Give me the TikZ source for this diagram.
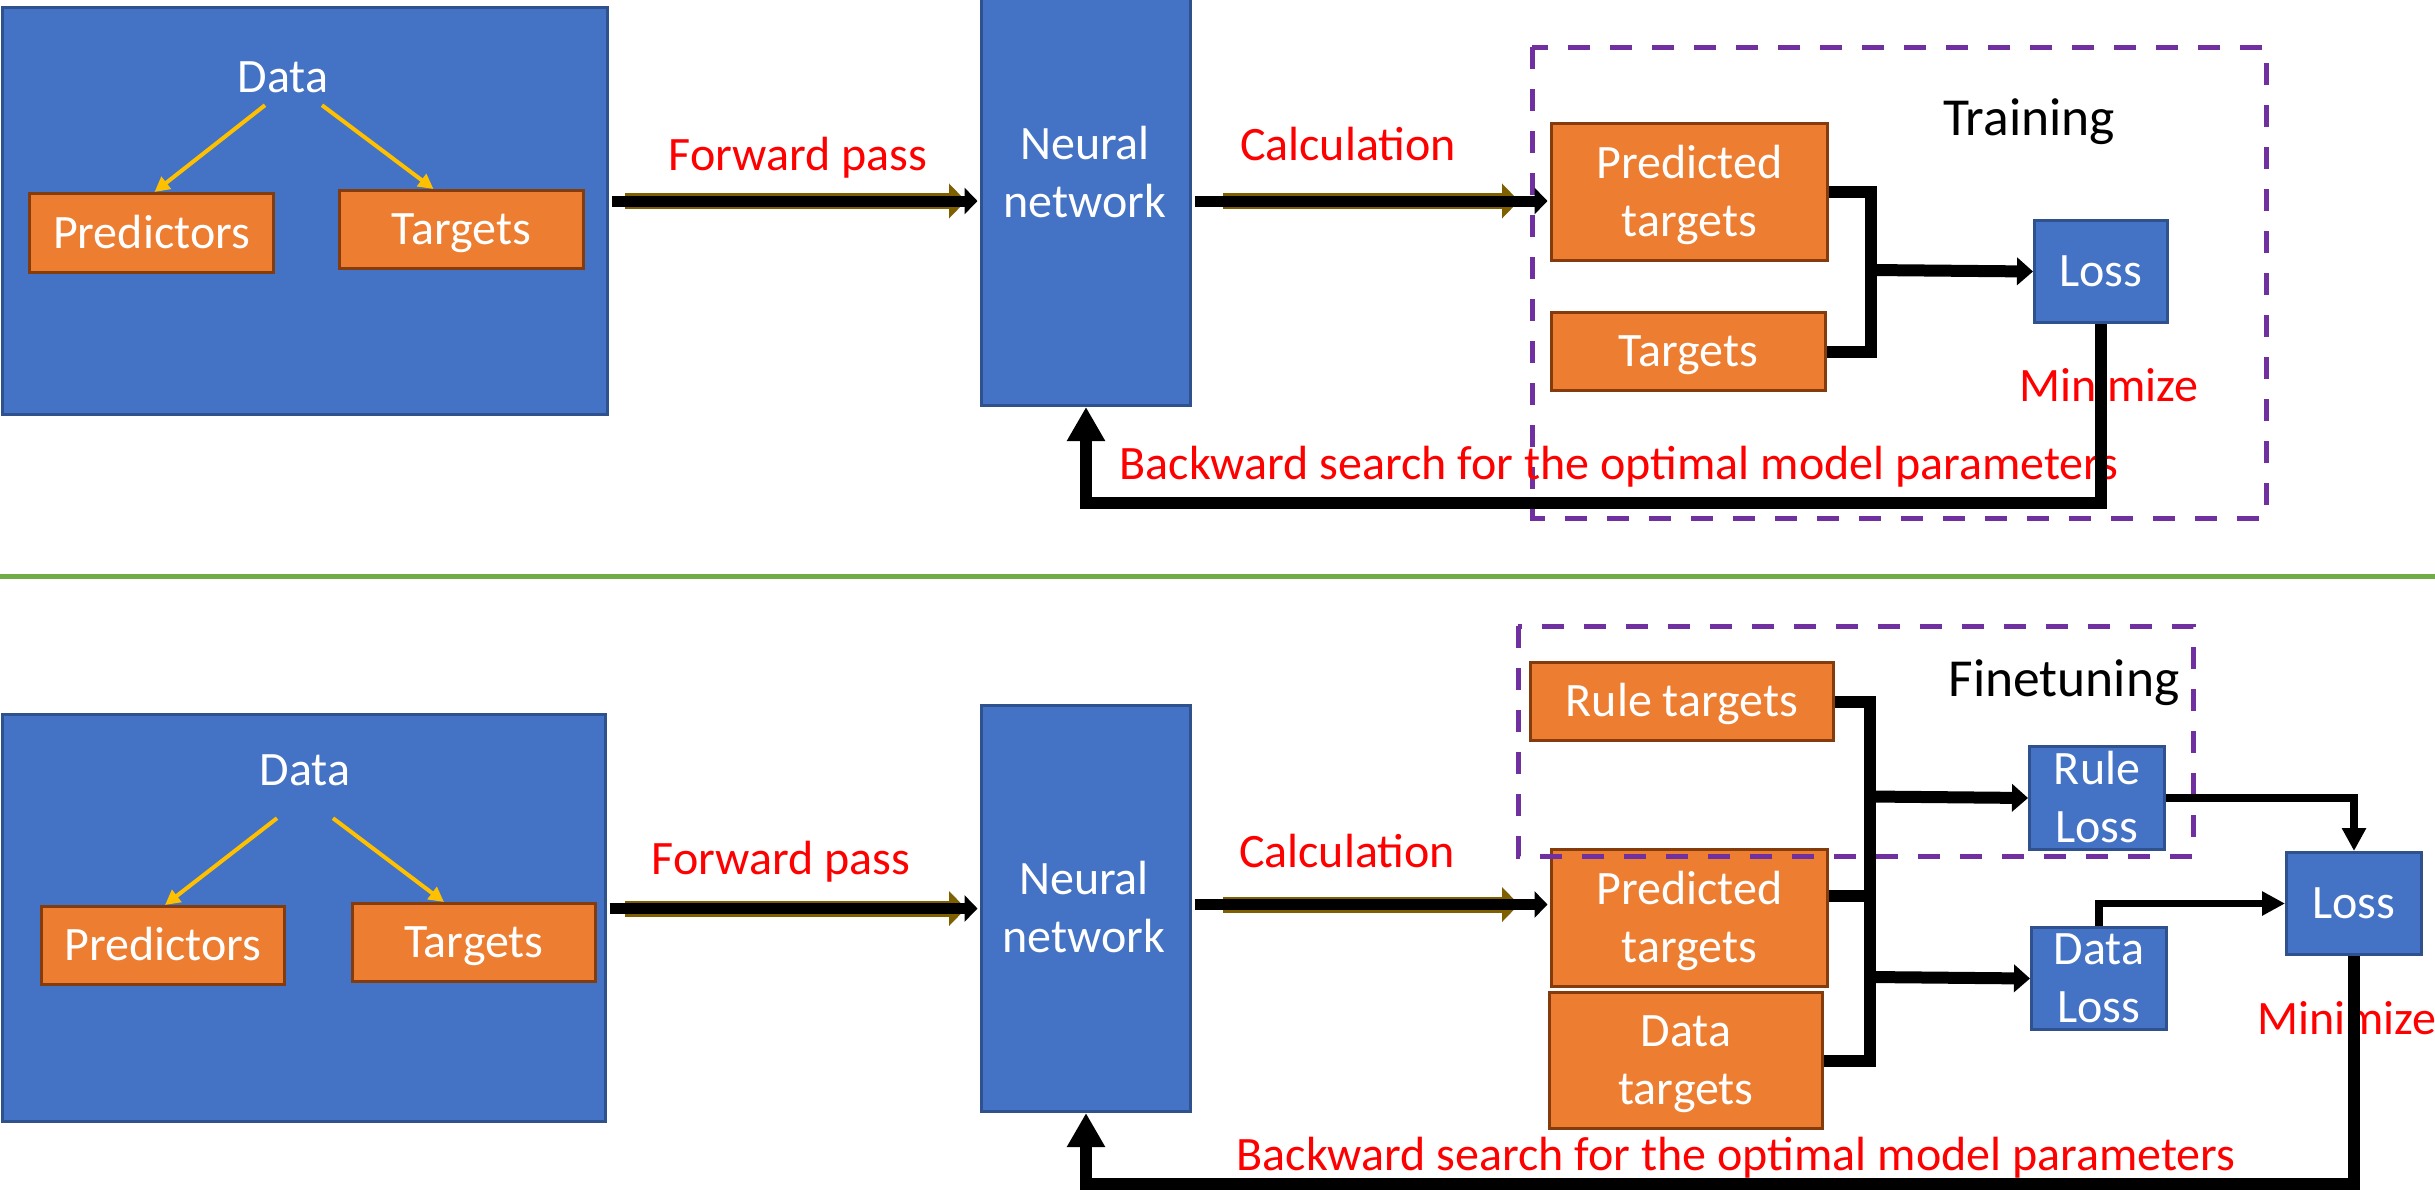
\documentclass[tikz,border=0pt]{standalone}
\usepackage{fontspec}
\setmainfont{Carlito}
\usetikzlibrary{arrows.meta}
\definecolor{boxblue}{HTML}{4472C4}
\definecolor{edgeblue}{HTML}{2F528F}
\definecolor{boxorange}{HTML}{ED7D31}
\definecolor{edgeorange}{HTML}{843C0C}
\definecolor{gold}{HTML}{FFC000}
\definecolor{plum}{HTML}{7030A0}
\definecolor{leaf}{HTML}{70AD47}
\definecolor{olivebrown}{HTML}{7F6000}
\begin{document}
\begin{tikzpicture}[x=1pt,y=-1pt,
  txt/.style={inner sep=0pt, text height=30pt, text depth=0pt, align=center,
              font=\fontsize{48}{58}\selectfont},
  twoline/.style={text height=88pt, text depth=0pt},
  bigtxt/.style={inner sep=0pt, text height=33.5pt, text depth=0pt,
              font=\fontsize{53.5}{60}\selectfont},
  redtxt/.style={txt, text=red},
  wh/.style 2 args={minimum width=#1, minimum height=#2},
  bluebox/.style={txt, rectangle, draw=edgeblue, fill=boxblue, line width=3pt,
                  anchor=north west, text=white},
  orangebox/.style={txt, rectangle, draw=edgeorange, fill=boxorange, line width=3pt,
                  anchor=north west, text=white},
  split/.style={draw=gold, line width=4pt, -{Triangle[length=15pt,width=15pt]}},
  fwd/.style={draw=olivebrown, line width=16pt, -{Triangle[length=17pt,width=34pt]},
              postaction={draw=black, line width=11pt,
                          -{Triangle[length=13pt,width=26pt]},
                          shorten >=2.5pt, shorten <=2.5pt}},
  bus/.style={draw=black, line width=12pt},
  bustip/.style={bus, -{Triangle[length=16pt,width=27pt]}},
  backtip/.style={bus, -{Triangle[length=34pt,width=36pt]}},
  link/.style={draw=black, line width=7.5pt, -{Triangle[length=23pt,width=23pt]}},
  frame/.style={draw=plum, line width=5pt, dash pattern=on 22pt off 20pt}
]
\useasboundingbox (0,0) rectangle (2435,1192);
\fill[white] (0,0) rectangle (2435,1192);

% ---------------- training stage ----------------
\node[bluebox, wh={605}{407}] (data1) at (1,6) {};
\node[txt, text=white] (dlab1) at (283,77) {Data};
\node[orangebox, wh={244}{79}] (pr1) at (28,192) {Predictors};
\node[orangebox, wh={244}{78}] (tg1) at (338,189) {Targets};
\draw[split] ([xshift=-18pt,yshift=-13pt]dlab1.south) -- ([xshift=3pt]pr1.north);
\draw[split] ([xshift=39pt,yshift=-13pt]dlab1.south) -- ([xshift=-28pt]tg1.north);

\node[bluebox, wh={209}{409}] (nn1) at (980,-5) {};
\node[txt, twoline, text=white] (nnlab1) at (1085,173.5) {Neural\\network};

\node[orangebox, twoline, wh={276}{137}] (pt1) at (1550,122) {Predicted\\targets};
\node[orangebox, wh={274}{78}] (tt1) at (1550,311) {Targets};
\node[bluebox, wh={133}{102}] (loss1) at (2033,219) {Loss};

\draw[frame] (1532,47) rectangle (2266,518);

\node[redtxt] (fwlab1) at (798,155) {Forward pass};
\draw[fwd, shorten <=16pt, shorten >=14pt] (data1.east |- nn1.west) -- (nn1.west);
\node[redtxt] (calab1) at (1348,145) {Calculation};
\draw[fwd, shorten <=31pt, shorten >=31pt] (nn1.east) -- (nn1.east -| pt1.west);

\coordinate (j1) at (1871,270);
\draw[bus] (pt1.east) -| (j1) |- (tt1.east);
\draw[bustip] (j1) -- (loss1.west);

\node[bigtxt] (stage1) at (2029,119) {Training};
\node[redtxt] (min1) at (2109,386) {Minimize};
\node[redtxt] (back1) at (1619,464) {Backward search for the optimal model parameters};
\draw[backtip] (loss1.south) |- (1200,503) -| (nn1.south);

% ---------------- separator ----------------
\draw[leaf, line width=5pt] (0,576) -- (2435,576);

% ---------------- finetuning stage ----------------
\node[bluebox, wh={603}{407}] (data2) at (1,713) {};
\node[txt, text=white] (dlab2) at (305,770) {Data};
\node[orangebox, wh={243}{78}] (pr2) at (40,905) {Predictors};
\node[orangebox, wh={243}{78}] (tg2) at (351,902) {Targets};
\draw[split] ([xshift=-28pt,yshift=-33pt]dlab2.south) -- ([xshift=2pt]pr2.north);
\draw[split] ([xshift=28pt,yshift=-33pt]dlab2.south) -- ([xshift=-30pt]tg2.north);

\node[bluebox, wh={209}{406}] (nn2) at (980,704) {};
\node[txt, twoline, text=white] (nnlab2) at (1084,908.5) {Neural\\network};

\node[orangebox, wh={303}{78}] (rt) at (1529,661) {Rule targets};
\node[orangebox, twoline, wh={276}{137}] (pt2) at (1550,848) {Predicted\\targets};
\node[orangebox, twoline, wh={273}{136}] (dt) at (1548,991) {Data\\targets};
\node[bluebox, twoline, wh={135}{103}] (rl) at (2028,745) {Rule\\Loss};
\node[bluebox, twoline, wh={135}{102}] (dl) at (2030,926) {Data\\Loss};
\node[bluebox, wh={135}{102}] (loss2) at (2285,851) {Loss};

\draw[frame] (1518,626) rectangle (2193,856);

\node[redtxt] (fwlab2) at (781,859) {Forward pass};
\draw[fwd, shorten <=18pt, shorten >=14pt] (data2.east |- nn2.west) -- (nn2.west);
\node[redtxt] (calab2) at (1347,852) {Calculation};
\draw[fwd, shorten <=31pt, shorten >=31pt] ([yshift=4pt]nn2.east) -- ([yshift=4pt]nn2.east -| pt2.west);

\coordinate (jr) at (1870,796.5);
\coordinate (jd) at (1870,977);
\draw[bus] (rt.east) -| (jd) |- (dt.east);
\draw[bus] ([yshift=22.5pt]pt2.east) -- ([yshift=22.5pt]pt2.east -| jd);
\draw[bustip] (jr) -- (rl.west);
\draw[bustip] (jd) -- (dl.west);
\draw[link] (rl.east) -| (loss2.north);
\draw[link] (dl.north) |- (loss2.west);

\node[bigtxt] (stage2) at (2064,680) {Finetuning};
\node[redtxt] (min2) at (2347,1019) {Minimize};
\node[redtxt] (back2) at (1736,1155) {Backward search for the optimal model parameters};
\draw[backtip] (loss2.south) |- (1200,1184) -| (nn2.south);
\end{tikzpicture}
\end{document}
